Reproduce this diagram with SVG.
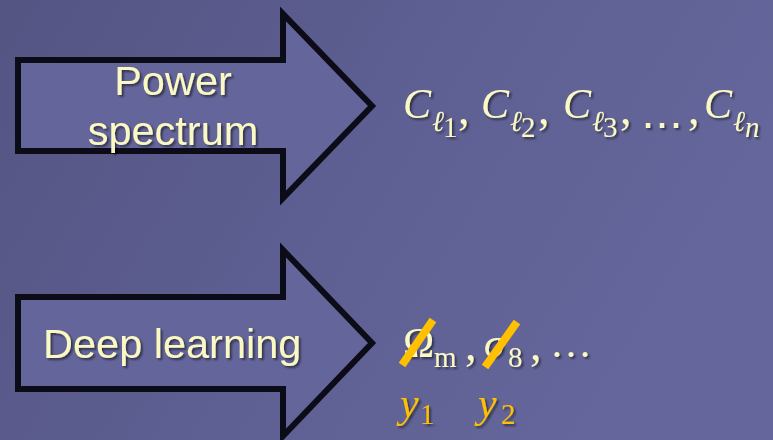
<svg xmlns="http://www.w3.org/2000/svg" width="773" height="440" viewBox="0 0 773 440">
<defs>
<linearGradient id="bg" x1="0" y1="0" x2="1" y2="0.35">
<stop offset="0" stop-color="#545583"/>
<stop offset="0.5" stop-color="#5d5e91"/>
<stop offset="1" stop-color="#65679c"/>
</linearGradient>
<filter id="sh" x="-10%" y="-10%" width="130%" height="140%">
<feDropShadow dx="2" dy="2" stdDeviation="1" flood-color="#000" flood-opacity="0.5"/>
</filter>
</defs>
<style>
.arrow{fill:#64659a;stroke:#0c0c18;stroke-width:6;stroke-linejoin:miter;stroke-miterlimit:10}
.lbl{font-family:"Liberation Sans",Arial,sans-serif;font-size:41.5px;fill:#fbf9c3;filter:url(#sh)}
.m{font-family:"Liberation Serif","DejaVu Serif",serif;fill:#fbf9c3;filter:url(#sh);font-size:42px}
.it{font-style:italic}
.cm{font-size:46px}
.sub{font-size:29px}
.y{fill:#ffc000}
.strike{stroke:#ffc000;stroke-width:8;stroke-linecap:butt}
</style>
<rect width="773" height="440" fill="url(#bg)"/>
<g id="arrow-power">
<path class="arrow" d="M18,60 H283 V14 L372,106 L283,198 V151 H18 Z"/>
<text class="lbl" text-anchor="middle" x="173" y="95">Power</text>
<text class="lbl" text-anchor="middle" x="173" y="145">spectrum</text>
</g>
<g id="arrow-deep">
<path class="arrow" d="M18,297 H283 V250 L372,343 L283,436 V389 H18 Z"/>
<text class="lbl" x="43" y="358">Deep learning</text>
</g>
<g id="cl-list">
<text class="m" x="403" y="118"><tspan class="it">C</tspan><tspan class="sub it" x="432" y="131">ℓ</tspan><tspan class="sub" x="443" y="137">1</tspan><tspan class="cm" x="458" y="124">,</tspan><tspan class="it" x="481" y="118">C</tspan><tspan class="sub it" x="510" y="131">ℓ</tspan><tspan class="sub" x="521" y="137">2</tspan><tspan class="cm" x="538" y="124">,</tspan><tspan class="it" x="563" y="118">C</tspan><tspan class="sub it" x="592" y="131">ℓ</tspan><tspan class="sub" x="603" y="137">3</tspan><tspan class="cm" x="620" y="124">,</tspan><tspan x="641" y="138">⋯</tspan><tspan class="cm" x="688" y="124">,</tspan><tspan class="it" x="704" y="118">C</tspan><tspan class="sub it" x="733" y="131">ℓ</tspan><tspan class="sub it" x="745" y="137">n</tspan></text>
</g>
<g id="params">
<text class="m" x="403" y="357">Ω<tspan class="sub" x="434" y="367">m</tspan><tspan class="cm" x="465" y="360">,</tspan><tspan class="it" x="484" y="357">σ</tspan><tspan class="sub" x="508" y="367">8</tspan><tspan class="cm" x="530" y="360">,</tspan><tspan x="550" y="357">…</tspan></text>
<line class="strike" x1="402" y1="365" x2="433" y2="320"/>
<line class="strike" x1="485" y1="367" x2="517" y2="322"/>
<text class="m it y" x="400" y="417">y<tspan class="sub" font-style="normal" x="420" y="424">1</tspan></text>
<text class="m it y" x="478" y="417">y<tspan class="sub" font-style="normal" x="501" y="424">2</tspan></text>
</g>
</svg>
